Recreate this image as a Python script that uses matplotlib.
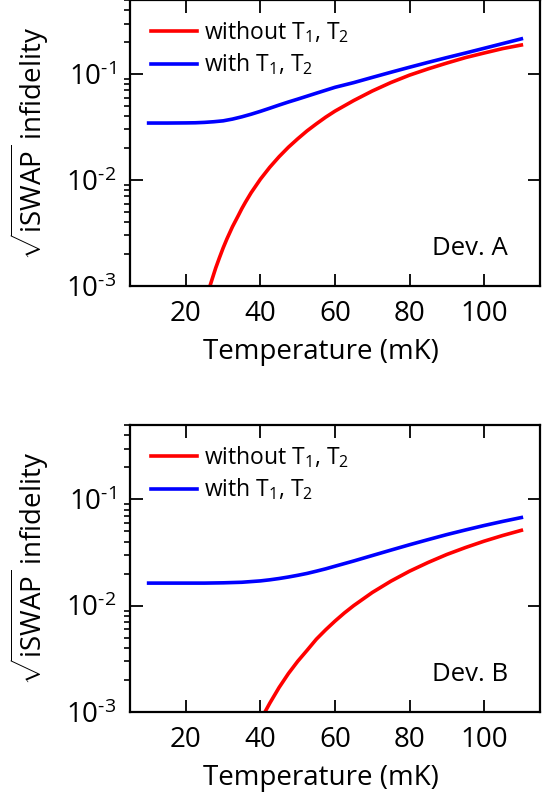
import numpy as np
import matplotlib
matplotlib.use("Agg")
import matplotlib.pyplot as plt
from matplotlib import ticker

plt.rcParams['font.family'] = ['Open Sans', 'DejaVu Sans']
plt.rcParams['mathtext.fontset'] = 'custom'
plt.rcParams['mathtext.rm'] = 'Open Sans'
plt.rcParams['mathtext.it'] = 'Open Sans:italic'
plt.rcParams['mathtext.default'] = 'regular'

# Device A (temperature in mK, infidelity)
temp_a_red = [26, 27, 28, 29, 30, 31, 32.5, 34, 35, 36, 37.5, 40, 42.5, 45, 47.5,
              50, 52.5, 55, 57.5, 60, 65, 70, 75, 80, 85, 90, 95, 100, 105, 110]
infid_a_red = [0.00089, 0.00115, 0.00148, 0.00185, 0.00229, 0.00278, 0.00363,
               0.00458, 0.00537, 0.00620, 0.00759, 0.0102, 0.0132, 0.0166,
               0.0204, 0.0245, 0.0291, 0.0339, 0.0392, 0.0447, 0.0562, 0.0692,
               0.0832, 0.0977, 0.112, 0.127, 0.143, 0.158, 0.174, 0.188]
temp_a_blue = [10, 15, 20, 22.5, 25, 27.5, 30, 32.5, 35, 37.5, 40, 42.5, 45,
               47.5, 50, 55, 60, 65, 70, 75, 80, 85, 90, 95, 100, 105, 110]
infid_a_blue = [0.0345, 0.0345, 0.0346, 0.0347, 0.0350, 0.0355, 0.0362, 0.0376,
                0.0395, 0.0418, 0.0445, 0.0476, 0.051, 0.0545, 0.058, 0.066,
                0.075, 0.083, 0.093, 0.104, 0.116, 0.129, 0.143, 0.158, 0.175,
                0.194, 0.215]

# Device B
temp_b_red = [41, 42.5, 45, 47.5, 50, 52.5, 55, 57.5, 60, 62.5, 65, 70, 75, 80,
              85, 90, 95, 100, 105, 110]
infid_b_red = [0.00097, 0.00121, 0.0017, 0.0023, 0.0030, 0.0038, 0.00484,
               0.00593, 0.00716, 0.00853, 0.0100, 0.0133, 0.0170, 0.0211, 0.0255,
               0.0303, 0.0352, 0.0404, 0.0457, 0.0511]
temp_b_blue = [10, 15, 20, 25, 30, 35, 40, 42.5, 45, 47.5, 50, 52.5, 55, 57.5,
               60, 65, 70, 75, 80, 85, 90, 95, 100, 105, 110]
infid_b_blue = [0.0163, 0.0163, 0.0163, 0.0163, 0.0164, 0.0166, 0.0171, 0.0175,
                0.0180, 0.0186, 0.0193, 0.0201, 0.0211, 0.0222, 0.0235, 0.0263,
                0.0296, 0.0333, 0.0374, 0.0418, 0.0466, 0.0515, 0.0567, 0.0620,
                0.0674]

x_ticks = [20, 40, 60, 80, 100]
y_ticks = [1e-3, 1e-2, 1e-1]
y_tick_labels = ['10$^{\\text{-}3}$', '10$^{\\text{-}2}$', '10$^{\\text{-}1}$']
label_red = 'without T$_1$, T$_2$'
label_blue = 'with T$_1$, T$_2$'
ylabel = '$\\sqrt{\\mathrm{iSWAP}}$ infidelity'


def draw_panel(ax, t_red, y_red, t_blue, y_blue, dev_name):
    ax.plot(t_red, y_red, color='#ff0000', lw=2.6, label=label_red)
    ax.plot(t_blue, y_blue, color='#0000ff', lw=2.6, label=label_blue)
    ax.set_yscale('log')
    ax.set_xlim(5, 115)
    ax.set_ylim(1e-3, 0.5)

    ax.set_xticks(x_ticks)
    ax.set_xticklabels([str(t) for t in x_ticks])
    ax.set_yticks(y_ticks)
    ax.set_yticklabels(y_tick_labels)
    ax.yaxis.set_minor_locator(ticker.LogLocator(base=10, subs=np.arange(2, 10), numticks=20))
    ax.yaxis.set_minor_formatter(ticker.NullFormatter())

    ax.tick_params(axis='both', which='major', direction='in', length=9, width=1.3,
                   top=True, right=True, labelsize=20, pad=10)
    ax.tick_params(axis='y', which='minor', direction='out', length=4.5, width=1.2,
                   left=True, right=False)
    for s in ax.spines.values():
        s.set_linewidth(1.6)

    ax.set_xlabel('Temperature (mK)', fontsize=20)
    ax.xaxis.set_label_coords(0.466, -0.23)
    ax.xaxis.label.set_va('center')
    ax.set_ylabel(ylabel, fontsize=20, va='center')
    ax.yaxis.set_label_coords(-0.245, 0.5)

    ax.legend(loc='upper left', bbox_to_anchor=(0.012, 0.99), frameon=False,
              fontsize=16.5, handlelength=2.0, handletextpad=0.3,
              labelspacing=0.3, borderaxespad=0.3, borderpad=0.4)
    ax.text(0.922, 0.108, dev_name, transform=ax.transAxes, ha='right',
            va='baseline', fontsize=18.5)


fig = plt.figure(figsize=(5.56, 7.96), dpi=100)
ax_a = fig.add_axes([0.2338, 0.6407, 0.7374, 0.3593])
ax_b = fig.add_axes([0.2338, 0.1055, 0.7374, 0.3606])

draw_panel(ax_a, temp_a_red, infid_a_red, temp_a_blue, infid_a_blue, 'Dev. A')
draw_panel(ax_b, temp_b_red, infid_b_red, temp_b_blue, infid_b_blue, 'Dev. B')

fig.savefig('out.png', dpi=100)
